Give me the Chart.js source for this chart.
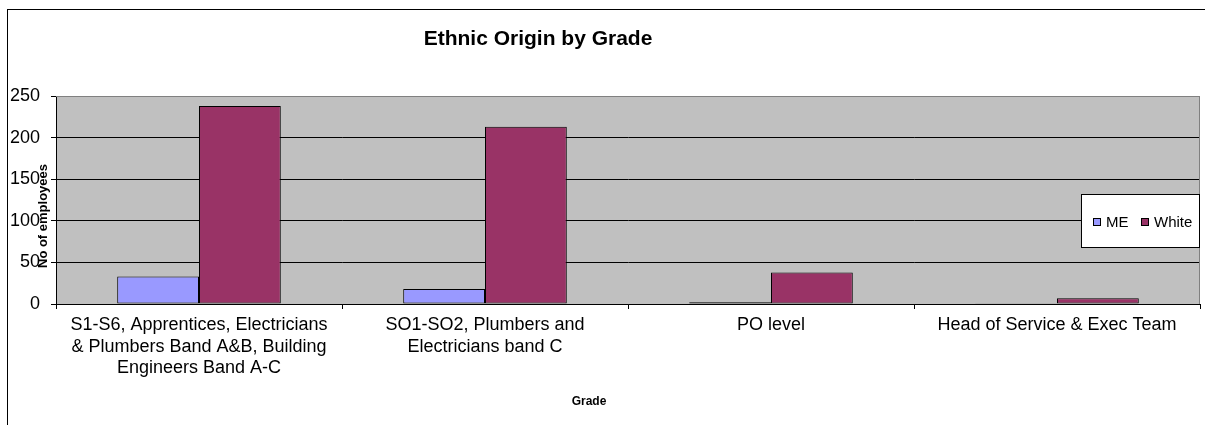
<!DOCTYPE html>
<html>
<head>
<meta charset="utf-8">
<title>Ethnic Origin by Grade</title>
<script src="https://cdn.jsdelivr.net/npm/chart.js@4/dist/chart.umd.min.js"></script>
<style>
  html, body { margin: 0; padding: 0; background: #ffffff; }
  #wrap { width: 1205px; height: 425px; }
</style>
</head>
<body>
<div id="wrap"><canvas id="c" width="1205" height="425"></canvas></div>
<script>
// Grade groups (multi-line category labels)
const grades = [
  ["S1-S6, Apprentices, Electricians", "& Plumbers Band A&B, Building", "Engineers Band A-C"],
  ["SO1-SO2, Plumbers and", "Electricians band C"],
  ["PO level"],
  ["Head of Service & Exec Team"]
];
const seriesNames = ["ME", "White"];
const meCounts = [33, 18, 2, 1];
const whiteCounts = [238, 213, 38, 7];
const yTicks = [0, 50, 100, 150, 200, 250];

const FONT = "'Liberation Sans', Arial, Helvetica, sans-serif";
const ME_COLOR = "#9999ff";
const WHITE_COLOR = "#993366";

// Frame, plot background, titles and the boxed legend
const decorations = {
  id: "decorations",
  beforeDraw(chart) {
    const { ctx, chartArea: a } = chart;
    ctx.save();
    ctx.fillStyle = "#ffffff";
    ctx.fillRect(0, 0, chart.width, chart.height);
    ctx.strokeStyle = "#000000";
    ctx.lineWidth = 1;
    ctx.strokeRect(7.5, 9.5, chart.width + 20, chart.height + 20);
    ctx.fillStyle = "#c0c0c0";
    ctx.fillRect(a.left, a.top, a.right - a.left, a.bottom - a.top);
    ctx.restore();
  },
  afterDraw(chart) {
    const { ctx, chartArea: a } = chart;
    ctx.save();
    // plot border, top and right
    ctx.strokeStyle = "#808080";
    ctx.lineWidth = 1;
    ctx.beginPath();
    ctx.moveTo(a.left, Math.round(a.top) + 0.5);
    ctx.lineTo(Math.round(a.right) - 0.5, Math.round(a.top) + 0.5);
    ctx.lineTo(Math.round(a.right) - 0.5, a.bottom);
    ctx.stroke();

    // chart title
    ctx.fillStyle = "#000000";
    ctx.textAlign = "center";
    ctx.textBaseline = "alphabetic";
    ctx.font = "bold 21px " + FONT;
    ctx.fillText("Ethnic Origin by Grade", 538, 45);

    // axis titles
    ctx.font = "bold 12px " + FONT;
    ctx.fillText("Grade", 589, 405);
    ctx.save();
    ctx.translate(47, 216);
    ctx.rotate(-Math.PI / 2);
    ctx.font = "bold 13px " + FONT;
    ctx.fillText("No of employees", 0, 0);
    ctx.restore();

    // legend box
    const lx = 1081, ly = 194, lw = 119, lh = 54;
    ctx.fillStyle = "#ffffff";
    ctx.fillRect(lx, ly, lw, lh);
    ctx.strokeStyle = "#000000";
    ctx.strokeRect(lx + 0.5, ly + 0.5, lw - 1, lh - 1);
    const items = [
      { name: seriesNames[0], color: ME_COLOR, x: 1093 },
      { name: seriesNames[1], color: WHITE_COLOR, x: 1141 }
    ];
    ctx.font = "15px " + FONT;
    ctx.textAlign = "left";
    ctx.textBaseline = "middle";
    items.forEach(it => {
      ctx.fillStyle = it.color;
      ctx.fillRect(it.x, 218, 8, 8);
      ctx.strokeStyle = "#000000";
      ctx.strokeRect(it.x + 0.5, 218.5, 7, 7);
      ctx.fillStyle = "#000000";
      ctx.fillText(it.name, it.x + 13, 222.5);
    });
    ctx.restore();
  }
};

new Chart(document.getElementById("c"), {
  type: "bar",
  data: {
    labels: grades,
    datasets: [
      {
        label: seriesNames[0],
        data: meCounts,
        backgroundColor: ME_COLOR,
        borderColor: "#000000",
        borderWidth: 1,
        borderSkipped: false
      },
      {
        label: seriesNames[1],
        data: whiteCounts,
        backgroundColor: WHITE_COLOR,
        borderColor: "#000000",
        borderWidth: 1,
        borderSkipped: false
      }
    ]
  },
  options: {
    responsive: false,
    animation: false,
    devicePixelRatio: 1,
    layout: { padding: { top: 96, right: 5, left: 0, bottom: 0 } },
    datasets: {
      bar: { barPercentage: 1.0, categoryPercentage: 0.572 }
    },
    plugins: {
      legend: { display: false },
      title: { display: false },
      tooltip: { enabled: false }
    },
    scales: {
      x: {
        grid: {
          drawOnChartArea: false,
          drawTicks: true,
          tickLength: 5,
          tickColor: "#000000",
          offset: true
        },
        border: { display: true, color: "#000000", width: 1 },
        ticks: {
          color: "#000000",
          font: { family: FONT, size: 18, lineHeight: 1.17 },
          maxRotation: 0,
          minRotation: 0,
          autoSkip: false,
          padding: 6
        },
        afterFit(scale) { scale.height = 121; }
      },
      y: {
        min: 0,
        max: 250,
        afterBuildTicks(scale) { scale.ticks = yTicks.map(v => ({ value: v })); },
        grid: {
          color: ctx => (ctx.tick && ctx.tick.value === 250 ? "#808080" : "#000000"),
          lineWidth: 1,
          drawTicks: true,
          tickLength: 5,
          tickColor: "#000000"
        },
        border: { display: true, color: "#000000", width: 1 },
        ticks: {
          color: "#000000",
          font: { family: FONT, size: 18 },
          padding: 11
        },
        afterFit(scale) { scale.width = 56; }
      }
    }
  },
  plugins: [decorations]
});
</script>
</body>
</html>
